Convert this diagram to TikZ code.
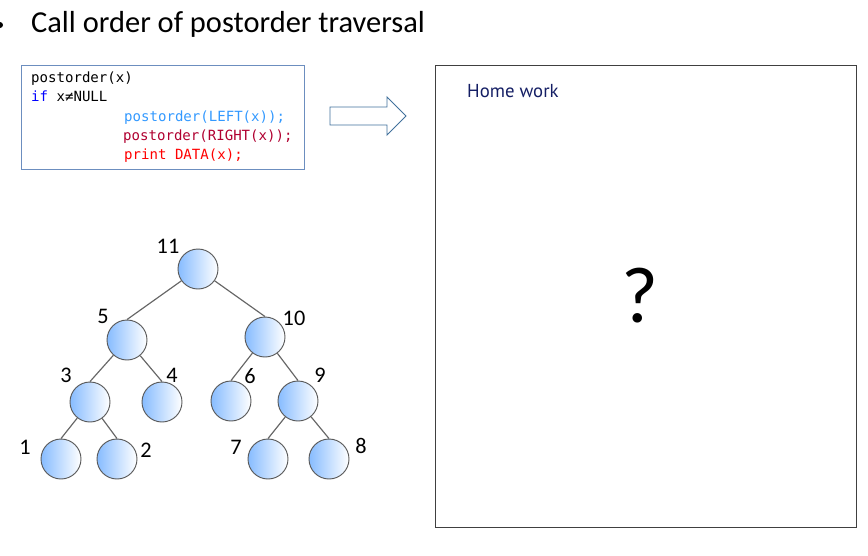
\documentclass[tikz,border=0pt]{standalone}
\usepackage{fontspec}
\setmainfont{Carlito}
\newfontfamily\codefont{DejaVu Sans Mono}
\newfontfamily\handfont{PT Sans}
\usepackage{xcolor}
\usetikzlibrary{calc, arrows.meta}
\definecolor{boxblue}{RGB}{108,142,191}
\definecolor{arrowblue}{RGB}{65,113,156}
\definecolor{kwblue}{RGB}{0,0,255}
\definecolor{leftblue}{RGB}{51,153,255}
\definecolor{rightred}{RGB}{176,0,48}
\definecolor{printred}{RGB}{255,0,0}
\definecolor{navyink}{RGB}{20,30,100}
\definecolor{nodeblue}{RGB}{135,188,255}

\begin{document}
\begin{tikzpicture}[x=0.03cm, y=-0.03cm,
    tnode/.style = {circle, draw=black!65, thick, inner sep=0pt, minimum size=1.2cm,
                    left color=nodeblue, right color=white},
    edge/.style = {draw=black!60, line width=1pt},
    num/.style = {font=\fontsize{19}{19}\selectfont, inner sep=0pt},
    code/.style = {font=\codefont\fontsize{12}{12}\selectfont, anchor=base west, inner sep=0pt}]
        \useasboundingbox (0,0) rectangle (868,555);

        % Title
        \fill (0,25) circle (3);
        \node (title) at (27,24) [anchor=west, font=\fontsize{26}{26}\selectfont] {Call order of postorder traversal};

        % Code box
        \draw[boxblue, thick] (21,65) rectangle (304,169);
        \node (c1) at (31,82) [code] {postorder(x)};
        \node (c2) at (31,101) [code] {\textcolor{kwblue}{if} x≠NULL};
        \node (c3) at (124,121) [code, leftblue] {postorder(LEFT(x));};
        \node (c4) at (123,140) [code, rightred] {postorder(RIGHT(x));};
        \node (c5) at (124,159) [code, printred] {print DATA(x);};

        % Block arrow
        \draw[arrowblue, thick, fill=white] (330,107) -- (387,107) -- (387,97) -- (406,116)
              -- (387,135) -- (387,125) -- (330,125) -- cycle;

        % Homework box
        \draw[black!75, thick] (435,65) rectangle (856,527);
        \node (hw) at (467,91) [anchor=west, inner sep=0pt, navyink,
              font=\handfont\fontsize{16}{16}\selectfont] {Home work};
        \node (qm) at (640,296) [font=\fontsize{68}{68}\selectfont, inner sep=0pt] {?};

        % Tree
        \node[tnode] (n11) at (198,269) {};
        \node[tnode] (n5) at (127,340) {};
        \node[tnode] (n10) at (265,337) {};
        \node[tnode] (n3) at (90,402) {};
        \node[tnode] (n4) at (162,402) {};
        \node[tnode] (n6) at (231,401) {};
        \node[tnode] (n9) at (298,401) {};
        \node[tnode] (n1) at (61,459) {};
        \node[tnode] (n2) at (117,459) {};
        \node[tnode] (n7) at (268,459) {};
        \node[tnode] (n8) at (329,459) {};

        \draw[edge] (n11) -- (n5.north);
        \draw[edge] (n11) -- (n10.north);
        \draw[edge] (n5) -- (n3.north);
        \draw[edge] (n5) -- (n4.north);
        \draw[edge] (n10) -- (n6.north);
        \draw[edge] (n10) -- (n9.north);
        \draw[edge] (n3) -- (n1.north);
        \draw[edge] (n3) -- (n2.north);
        \draw[edge] (n9) -- (n7.north);
        \draw[edge] (n9) -- (n8.north);

        % Visit numbers
        \node[num] (l11) at (168,246) {11};
        \node[num] (l5) at (103,316) {5};
        \node[num] (l10) at (294,318) {10};
        \node[num] (l3) at (66,375) {3};
        \node[num] (l4) at (172,375) {4};
        \node[num] (l6) at (250,376) {6};
        \node[num] (l9) at (320,375) {9};
        \node[num] (l1) at (25,447) {1};
        \node[num] (l2) at (146,450) {2};
        \node[num] (l7) at (236,447) {7};
        \node[num] (l8) at (361,446) {8};
    \end{tikzpicture}
\end{document}
